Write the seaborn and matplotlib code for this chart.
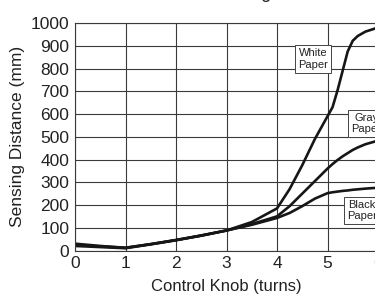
import numpy as np
import pandas as pd
import matplotlib
matplotlib.use('Agg')
import matplotlib.pyplot as plt
import seaborn as sns

# knob position (turns) and sensing distance (mm)
turns = [0, 0.5, 1, 1.5, 2, 2.5, 3, 3.5, 4, 4.25, 4.5, 4.75, 5, 5.1, 5.2, 5.3, 5.4, 5.5, 5.6, 5.75, 6]
white = [30, 20, 12, 28, 46, 66, 88, 125, 185, 270, 375, 490, 590, 630, 705, 790, 875, 922, 943, 962, 980]
gray = [25, 18, 12, 28, 46, 66, 88, 116, 150, 195, 250, 305, 360, 380, 398, 414, 428, 442, 453, 467, 483]
black = [20, 15, 10, 27, 45, 65, 88, 113, 143, 165, 195, 228, 252, 256, 259, 262, 264, 267, 269, 272, 276]

papers = ["White Paper", "Gray Paper", "Black Paper"]
df = pd.DataFrame({
    "turns": turns * 3,
    "distance": white + gray + black,
    "paper": np.repeat(papers, len(turns)),
})

sns.set_style("white")
plt.rcParams['font.family'] = ['Liberation Sans', 'DejaVu Sans']

fig = plt.figure(figsize=(3.75, 2.96), dpi=100)
ax = fig.add_axes([0.2, 0.1537, 0.808, 0.7686])

sns.lineplot(data=df, x="turns", y="distance", hue="paper",
             palette=["#161616"] * 3, linewidth=1.9, legend=False, ax=ax)

ax.set_xlim(0, 6)
ax.set_ylim(0, 1000)
ax.set_xticks(range(0, 7))
ax.set_yticks(range(0, 1001, 100))
ax.grid(True, color="#3a3a3a", linewidth=0.8)
ax.set_axisbelow(True)
for s in ax.spines.values():
    s.set_color("#3a3a3a")
    s.set_linewidth(0.8)
ax.tick_params(length=0, labelsize=12.5, colors="#222222", pad=4)
ax.set_xlabel("Control Knob (turns)", fontsize=12, color="#222222", labelpad=6)
ax.set_ylabel("Sensing Distance (mm)", fontsize=12.5, color="#222222", labelpad=4)

box = dict(boxstyle="square,pad=0.25", fc="white", ec="#444444", lw=0.7)
ax.text(4.71, 842, "White\nPaper", fontsize=8, ha="center", va="center",
        multialignment="center", bbox=box, color="#222222")
ax.text(5.47, 558, "Gray\nPaper", fontsize=8, ha="left", va="center",
        multialignment="center", bbox=box, color="#222222")
ax.text(5.39, 176, "Black\nPaper", fontsize=8, ha="left", va="center",
        multialignment="center", bbox=box, color="#222222")

# title sits above the crop, only the tail of the g shows
fig.text(0.722, 1.006, "Knob Setting", fontsize=13, ha="right", va="baseline",
         color="#222222")

fig.savefig("out.png", dpi=100)
